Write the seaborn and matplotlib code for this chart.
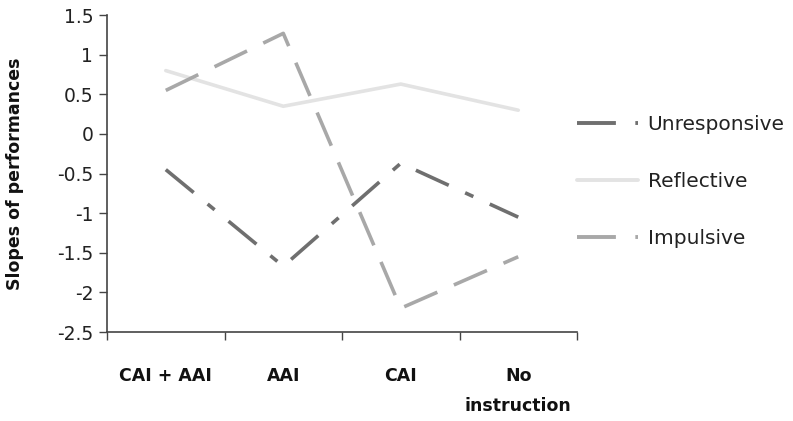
import matplotlib
matplotlib.use("Agg")
import matplotlib.pyplot as plt
import seaborn as sns
import pandas as pd
from matplotlib.lines import Line2D

categories = ["CAI + AAI", "AAI", "CAI", "No\ninstruction"]
unresponsive = [-0.45, -1.67, -0.37, -1.05]
reflective = [0.80, 0.35, 0.63, 0.30]
impulsive = [0.55, 1.27, -2.20, -1.55]
series_names = ["Unresponsive", "Reflective", "Impulsive"]
y_ticks = [1.5, 1, 0.5, 0, -0.5, -1, -1.5, -2, -2.5]
y_tick_labels = ["1.5", "1", "0.5", "0", "-0.5", "-1", "-1.5", "-2", "-2.5"]

rows = []
for name, vals in zip(series_names, [unresponsive, reflective, impulsive]):
    for i, v in enumerate(vals):
        rows.append({"pos": i, "value": v, "series": name})
df = pd.DataFrame(rows)

sns.set_theme(style="white")
plt.rcParams['font.family'] = ['DejaVu Sans']

fig = plt.figure(figsize=(7.93, 4.21), dpi=100)
ax = fig.add_axes([0.135, 0.2114, 0.5926, 0.7526])

colors = {"Unresponsive": "#6f6f6f", "Reflective": "#e3e3e3", "Impulsive": "#a8a8a8"}
dashes = {"Unresponsive": (10, 5, 2.5, 5), "Reflective": "", "Impulsive": (10, 5)}

sns.lineplot(data=df, x="pos", y="value", hue="series", style="series",
             palette=colors, dashes=dashes, hue_order=series_names,
             style_order=series_names, linewidth=2.6, ax=ax, legend=False)

ax.set_xlim(-0.5, 3.5)
ax.set_ylim(-2.5, 1.5)
ax.set_yticks(y_ticks)
ax.set_yticklabels(y_tick_labels, fontsize=13.5, color="#222222")
ax.set_xticks([-0.5, 0.5, 1.5, 2.5, 3.5])
ax.set_xticklabels([])
ax.set_xticks([0, 1, 2, 3], minor=True)
ax.set_xticklabels(categories, minor=True, fontsize=12.5, fontweight="bold",
                   color="#111111", linespacing=1.85, va="top")
ax.tick_params(axis="x", which="minor", length=0, pad=25)
ax.tick_params(axis="x", which="major", direction="out", length=6, width=1, color="#444444", bottom=True)
ax.tick_params(axis="y", direction="out", length=6, width=1, color="#444444", left=True, pad=4)
ax.set_xlabel("")
ax.set_ylabel("Slopes of performances", fontsize=12.5, fontweight="bold", color="#111111", labelpad=24)
for s in ["top", "right"]:
    ax.spines[s].set_visible(False)
for s in ["left", "bottom"]:
    ax.spines[s].set_color("#444444")
    ax.spines[s].set_linewidth(1.2)

handles = [Line2D([0], [0], color=colors[n], lw=2.8,
                  linestyle=(0, dashes[n]) if dashes[n] else "-") for n in series_names]
leg = fig.legend(handles, series_names, loc="upper left", bbox_to_anchor=(0.705, 0.77),
                 frameon=False, fontsize=14.5, handlelength=3.0, labelspacing=1.9,
                 handletextpad=0.5)
for t in leg.get_texts():
    t.set_color("#222222")

fig.savefig("out.png", dpi=100)
